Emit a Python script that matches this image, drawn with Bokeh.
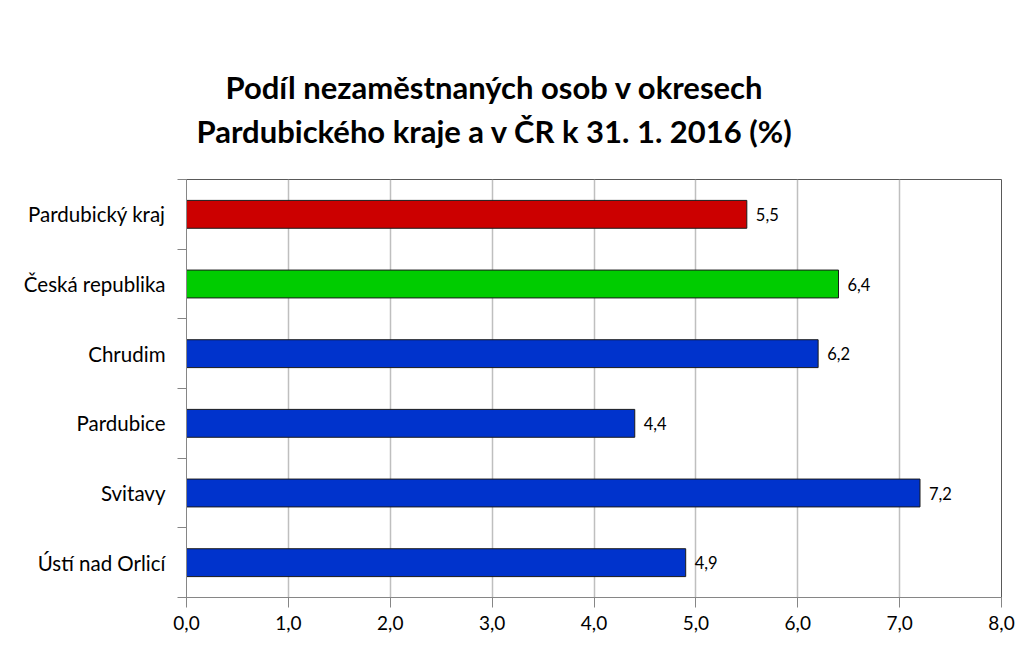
from bokeh.plotting import figure
from bokeh.models import ColumnDataSource, FixedTicker, CustomJSTickFormatter, Title, Range1d
from bokeh.core.properties import value
from bokeh.embed import file_html
from bokeh.resources import INLINE

categories = ["Pardubický kraj", "Česká republika", "Chrudim", "Pardubice", "Svitavy", "Ústí nad Orlicí"]
values = [5.5, 6.4, 6.2, 4.4, 7.2, 4.9]
colors = ["#CC0000", "#00CC00", "#0033CC", "#0033CC", "#0033CC", "#0033CC"]
x_ticks = [0, 1, 2, 3, 4, 5, 6, 7, 8]
title_lines = ["Podíl nezaměstnaných osob v okresech", "Pardubického kraje a v ČR k 31. 1. 2016 (%)"]

FONT = "Lato"
n = len(categories)
ypos = [n - i - 0.5 for i in range(n)]
labels = [f"{v:.1f}".replace(".", ",") for v in values]

src = ColumnDataSource(dict(cat=categories, val=values, col=colors, y=ypos, lab=labels))

p = figure(width=1024, height=663, output_backend="svg", toolbar_location=None,
           x_range=Range1d(0, 8), y_range=Range1d(0, n),
           min_border_left=186, min_border_right=23, min_border_top=179, min_border_bottom=66)
p.outline_line_color = "#595959"
p.outline_line_width = 1
p.background_fill_color = "white"
p.border_fill_color = "white"

p.hbar(y="y", left=0, right="val", height=0.4, fill_color="col", line_color="#1a1a1a",
       line_width=1, source=src)
p.text(x="val", y="y", text="lab", source=src, x_offset=9, text_baseline="middle",
       text_align="left", text_font=value(FONT), text_font_size="16.5px", text_color="black")

# x axis
p.xaxis.ticker = FixedTicker(ticks=x_ticks)
p.xaxis.formatter = CustomJSTickFormatter(code="return tick.toFixed(1).replace('.', ',');")
p.xaxis.major_label_text_font = FONT
p.xaxis.major_label_text_font_size = "19px"
p.xaxis.major_label_text_color = "black"
p.xaxis.major_tick_out = 10
p.xaxis.major_tick_in = 0
p.xaxis.minor_tick_out = 0
p.xaxis.minor_tick_in = 0
p.xaxis.axis_line_color = "#868686"
p.xaxis.major_tick_line_color = "#868686"
p.xaxis.major_label_standoff = 8

# y axis
p.yaxis.ticker = FixedTicker(ticks=ypos, minor_ticks=list(range(n + 1)))
p.yaxis.major_label_overrides = {y: c for y, c in zip(ypos, categories)}
p.yaxis.major_label_text_font = FONT
p.yaxis.major_label_text_font_size = "20.5px"
p.yaxis.major_label_text_color = "black"
p.yaxis.major_tick_out = 0
p.yaxis.major_tick_in = 0
p.yaxis.minor_tick_out = 9
p.yaxis.minor_tick_in = 0
p.yaxis.minor_tick_line_color = "#868686"
p.yaxis.axis_line_color = "#868686"
p.yaxis.major_label_standoff = 12

p.xgrid.ticker = FixedTicker(ticks=x_ticks)
p.xgrid.grid_line_color = "#BFBFBF"
p.xgrid.grid_line_width = 1.5
p.ygrid.visible = False

p.title = None
offsets = [39, 10]
standoffs = [-52, 60]
for t, off, so in reversed(list(zip(title_lines, offsets, standoffs))):
    p.add_layout(Title(text=t, align="left", offset=off, text_font=FONT,
                       text_font_style="bold", text_font_size="31px", text_color="black",
                       standoff=so), "above")

open("out.html", "w").write(file_html(p, INLINE))
